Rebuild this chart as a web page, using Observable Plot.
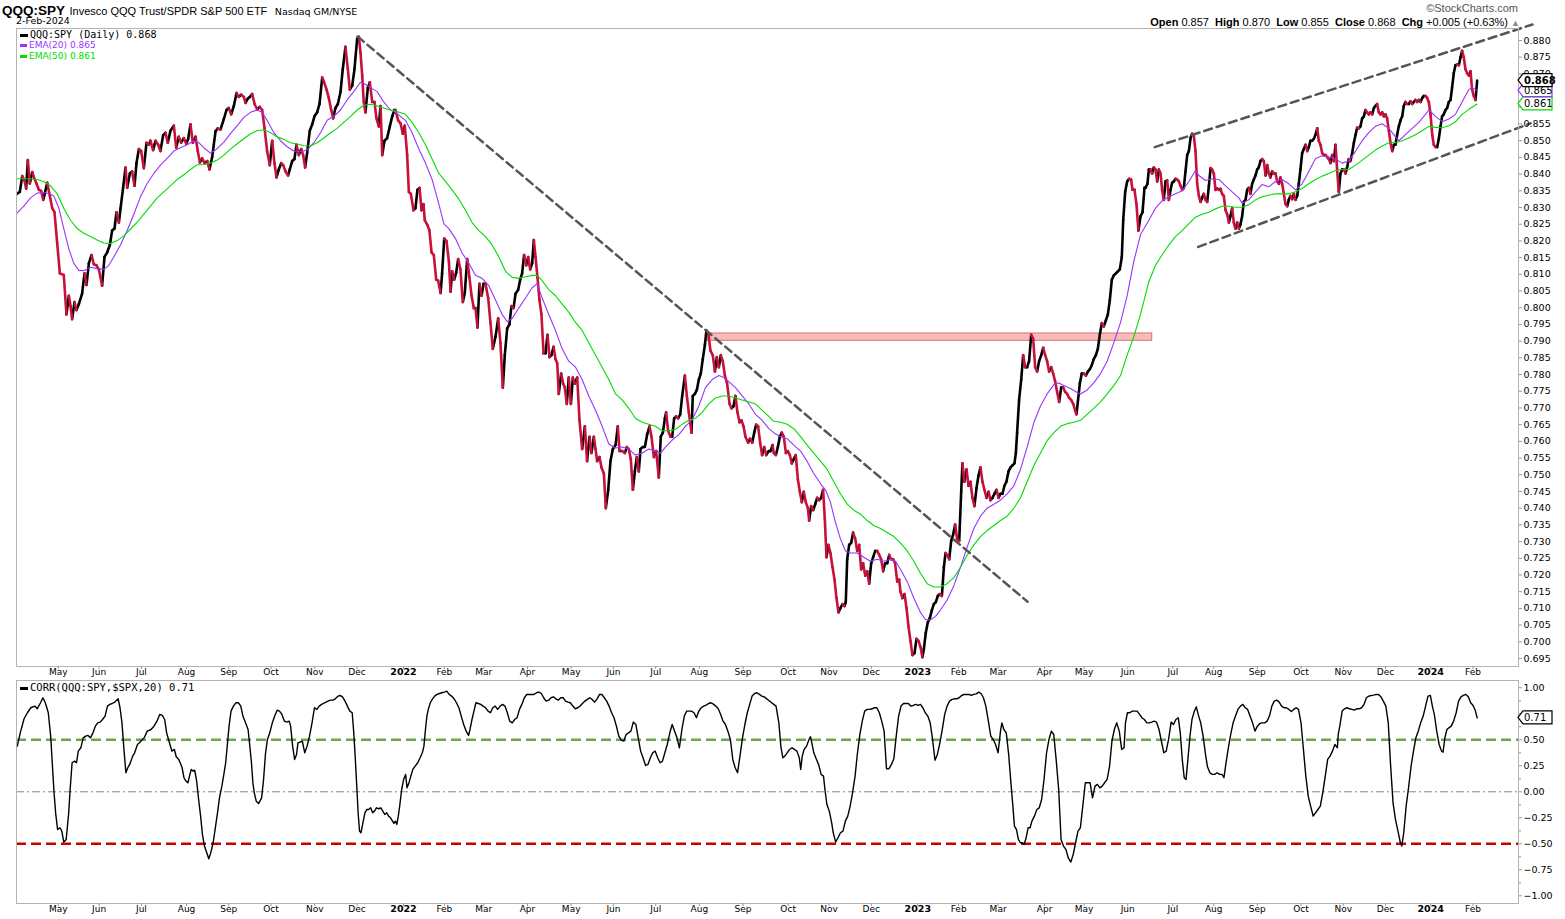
<!DOCTYPE html>
<html><head><meta charset="utf-8">
<script src="https://cdn.jsdelivr.net/npm/d3@7"></script>
<script src="https://cdn.jsdelivr.net/npm/@observablehq/plot@0.6"></script>
<style>
body{margin:0;background:#fff}
#wrap{position:relative;width:1565px;height:919px;overflow:hidden;background:#fff}
.abs{position:absolute;white-space:nowrap;line-height:1}
.sans{font-family:'Liberation Sans',Arial,sans-serif}
.dv{font-family:'DejaVu Sans',sans-serif}
.mono{font-family:'DejaVu Sans Mono',monospace}
.bar{display:inline-block;width:8px;height:3px;vertical-align:middle;margin-right:2px}
</style></head><body>
<div id="wrap">
  <div class="abs sans" style="left:2px;top:2px"><span style="font-weight:bold;font-size:13.5px">QQQ:SPY</span> <span style="font-size:11px">Invesco QQQ Trust/SPDR S&amp;P 500 ETF</span> <span class="dv" style="font-size:9.5px">&nbsp;Nasdaq GM/NYSE</span></div>
  <div class="abs dv" style="left:16px;top:16px;font-size:9.5px">2-Feb-2024</div>
  <div class="abs sans" style="right:47px;top:3px;font-size:11px;color:#555">&#169;StockCharts.com</div>
  <div class="abs sans" id="ohlc" style="right:45px;top:17px;font-size:11px"></div>
  <div class="abs mono" style="left:20px;top:30px;font-size:10px"><span class="bar" style="background:#000"></span>QQQ:SPY (Daily) 0.868</div>
  <div class="abs dv" style="left:20px;top:41px;font-size:9px;color:#9933ff"><span class="bar" style="background:#9933ff;width:7px"></span>EMA(20) 0.865</div>
  <div class="abs dv" style="left:20px;top:52px;font-size:9px;color:#00dd00"><span class="bar" style="background:#00dd00;width:7px"></span>EMA(50) 0.861</div>
  <div id="main" class="abs" style="left:0;top:28px"></div>
  <div id="lower" class="abs" style="left:0;top:680px"></div>
  <div class="abs mono" style="left:20px;top:682px;font-size:10.5px"><span class="bar" style="background:#000"></span>CORR(QQQ:SPY,$SPX,20) 0.71</div>
</div>
<script>
// ---- header quote ----
const quoteLabels = ["Open","High","Low","Close","Chg"];
const quoteValues = ["0.857","0.870","0.855","0.868","+0.005 (+0.63%)"];

// ---- axis ticks ----
const monthTicks = ["2021-05-03","2021-06-01","2021-07-01","2021-08-02","2021-09-01","2021-10-01","2021-11-01","2021-12-01","2022-01-03","2022-02-01","2022-03-01","2022-04-01","2022-05-02","2022-06-01","2022-07-01","2022-08-01","2022-09-01","2022-10-03","2022-11-01","2022-12-01","2023-01-03","2023-02-01","2023-03-01","2023-04-03","2023-05-01","2023-06-01","2023-07-03","2023-08-01","2023-09-01","2023-10-02","2023-11-01","2023-12-01","2024-01-02","2024-02-01"];
const monthLabels = ["May","Jun","Jul","Aug","Sep","Oct","Nov","Dec","2022","Feb","Mar","Apr","May","Jun","Jul","Aug","Sep","Oct","Nov","Dec","2023","Feb","Mar","Apr","May","Jun","Jul","Aug","Sep","Oct","Nov","Dec","2024","Feb"];

// ---- series: [days since 2021-04-01, value] ----
const price = [
[2.8,.8341],[4.7,.8347],[6.4,.8394],[8.0,.8381],[9.2,.8357],[10.4,.8442],[11.8,.8372],[13.5,.8406],[15.1,.8386],[16.5,.8372],
[18.2,.8353],[19.8,.8350],[21.3,.8323],[22.4,.8341],[24.1,.8374],[26.0,.8335],[27.7,.8298],[29.3,.8286],[31.2,.8194],[33.1,.8103],
[35.9,.8098],[37.8,.7980],[39.5,.8036],[40.7,.8005],[41.8,.7966],[43.5,.8017],[44.9,.7993],[46.6,.8011],[48.9,.8042],[50.6,.8103],
[52.0,.8068],[53.7,.8133],[55.6,.8158],[57.2,.8130],[59.1,.8127],[60.8,.8115],[63.1,.8066],[64.8,.8152],[66.7,.8166],[68.6,.8188],
[70.2,.8231],[71.9,.8237],[73.3,.8286],[75.0,.8255],[76.2,.8298],[78.0,.8359],[79.7,.8420],[80.9,.8359],[82.8,.8402],[84.4,.8408],
[86.1,.8365],[87.5,.8433],[89.2,.8475],[90.8,.8469],[92.7,.8418],[94.6,.8494],[96.3,.8488],[97.4,.8500],[99.3,.8472],[101.0,.8500],
[102.9,.8488],[104.5,.8469],[106.4,.8516],[108.1,.8524],[109.7,.8494],[111.6,.8530],[114.0,.8545],[115.7,.8479],[117.5,.8512],[119.2,.8494],
[121.1,.8508],[122.8,.8491],[124.2,.8506],[125.8,.8549],[127.5,.8494],[129.4,.8512],[131.0,.8469],[132.5,.8435],[134.1,.8447],[135.8,.8433],
[137.7,.8439],[139.3,.8414],[141.2,.8451],[143.6,.8528],[145.2,.8537],[147.1,.8533],[149.5,.8565],[151.4,.8592],[153.0,.8598],[154.7,.8579],
[156.6,.8604],[158.5,.8643],[160.1,.8631],[161.8,.8638],[163.7,.8631],[164.9,.8613],[166.5,.8626],[167.9,.8631],[169.6,.8640],[171.3,.8610],
[173.1,.8594],[175.0,.8601],[176.7,.8592],[178.4,.8537],[180.2,.8469],[182.1,.8427],[183.8,.8500],[185.4,.8433],[186.9,.8390],[188.5,.8414],
[190.2,.8433],[191.6,.8427],[193.3,.8408],[195.1,.8396],[196.3,.8414],[198.0,.8439],[199.6,.8445],[201.1,.8488],[202.7,.8457],[204.4,.8475],
[205.8,.8457],[207.2,.8420],[208.6,.8463],[210.5,.8530],[212.2,.8549],[213.8,.8573],[215.7,.8585],[217.4,.8610],[219.3,.8689],[220.5,.8677],
[222.4,.8653],[224.0,.8628],[225.7,.8592],[227.1,.8567],[228.7,.8598],[230.4,.8610],[232.3,.8646],[233.9,.8714],[235.8,.8781],[237.5,.8714],
[238.9,.8653],[240.6,.8665],[242.2,.8714],[244.1,.8805],[245.3,.8811],[246.5,.8763],[247.7,.8695],[248.8,.8616],[250.0,.8585],[251.7,.8659],
[253.1,.8675],[254.8,.8616],[256.4,.8616],[257.8,.8567],[259.5,.8543],[260.7,.8604],[261.9,.8457],[263.5,.8500],[265.4,.8508],[267.3,.8543],
[269.0,.8573],[270.6,.8592],
[271.3,.8592],[273.2,.8561],[274.9,.8552],[276.5,.8521],[277.9,.8545],[279.6,.8457],[280.8,.8347],[282.2,.8341],[284.1,.8292],[285.5,.8298],
[286.9,.8353],[288.4,.8359],[289.8,.8292],[291.2,.8310],[292.1,.8262],[293.8,.8249],[295.4,.8231],[296.9,.8166],[298.5,.8158],[300.2,.8084],
[301.6,.8081],[303.3,.8044],[304.4,.8103],[305.9,.8207],[307.5,.8200],[309.2,.8139],[310.4,.8048],[311.5,.8109],[313.0,.8084],[314.4,.8105],
[315.8,.8146],[317.4,.8115],[319.1,.8017],[320.5,.8044],[322.2,.8146],[323.8,.8091],[325.3,.8036],[326.9,.7999],[328.1,.7999],[329.5,.7941],
[330.9,.8072],[332.4,.8036],[333.8,.8072],[335.2,.8072],[337.1,.8029],[338.7,.7956],[340.4,.7877],[342.3,.7913],[344.2,.7968],[345.8,.7895],
[347.5,.7761],[348.9,.7858],[350.6,.7938],[352.2,.7950],[353.6,.8005],[355.1,.7999],[356.5,.8042],[358.4,.8054],[359.8,.8084],[361.2,.8103],
[362.6,.8158],[364.1,.8127],[365.5,.8152],[366.9,.8115],[368.3,.8133],[369.5,.8203],[370.7,.8152],[372.1,.8091],[373.5,.8023],[374.9,.7980],
[376.4,.7864],[377.8,.7864],[379.2,.7919],[380.6,.7852],[382.0,.7858],[383.5,.7883],[384.9,.7846],[386.1,.7834],[387.2,.7742],[388.9,.7803],
[390.3,.7773],[391.5,.7761],[392.9,.7712],[394.3,.7791],[395.8,.7712],[397.2,.7791],[398.6,.7773],[400.3,.7791],[401.9,.7663],[403.8,.7577],
[405.7,.7645],[407.3,.7541],[409.0,.7614],[410.4,.7565],[412.1,.7614],[413.3,.7577],[414.4,.7541],[416.1,.7553],[417.5,.7522],[419.2,.7504],
[420.6,.7400],[422.3,.7455],[423.9,.7541],[425.6,.7577],[427.5,.7589],[429.1,.7645],[430.3,.7571],[432.2,.7571],[434.1,.7565],[435.5,.7583],
[436.9,.7577],[438.3,.7547],[439.8,.7455],[441.2,.7510],[442.6,.7553],[444.0,.7510],[445.2,.7577],[446.9,.7583],[448.3,.7583],[449.9,.7620],
[451.6,.7645],[453.0,.7614],[454.7,.7553],[456.3,.7571],[458.2,.7492],[459.6,.7614],[461.1,.7626],[462.5,.7669],[463.4,.7687],[464.8,.7632],
[466.5,.7614],[467.7,.7614],[469.1,.7669],[470.5,.7675],[471.9,.7669],[473.4,.7681],[474.8,.7736],[476.7,.7797],[478.1,.7736],[479.5,.7687],
[481.4,.7626],[482.3,.7736],[483.8,.7742],[485.2,.7754],[486.6,.7785],[488.0,.7803],[489.4,.7846],[490.9,.7889],[492.0,.7932],[493.2,.7926],
[494.9,.7871],[496.5,.7858],[498.0,.7809],[499.4,.7852],[500.8,.7822],[502.2,.7858],[503.6,.7840],[505.1,.7797],[506.7,.7773],[508.4,.7712],
[509.8,.7699],[511.2,.7705],[512.6,.7736],[514.0,.7687],[515.5,.7657],[516.9,.7663],[518.3,.7645],[519.7,.7614],[521.6,.7596],[523.0,.7608],
[524.5,.7596],[525.9,.7626],[527.3,.7650],[528.7,.7645],[530.1,.7596],[531.5,.7559],[533.0,.7583],[534.4,.7559],[536.3,.7571],
[537.5,.7571],[538.9,.7589],[539.8,.7565],[541.3,.7559],[542.7,.7583],[544.1,.7614],[545.5,.7626],[546.9,.7614],[548.4,.7565],[549.8,.7571],
[551.2,.7559],[552.6,.7534],[554.0,.7547],[555.4,.7559],[556.9,.7486],[558.3,.7449],[559.7,.7418],[561.1,.7449],[562.5,.7418],[564.0,.7400],
[564.9,.7363],[566.3,.7406],[567.8,.7394],[569.2,.7412],[570.6,.7431],[572.0,.7424],[573.4,.7431],[574.8,.7455],[576.0,.7369],[577.2,.7253],
[578.6,.7290],[580.0,.7266],[581.5,.7223],[582.9,.7186],[584.3,.7131],[585.7,.7088],[587.1,.7101],[588.6,.7113],[590.0,.7107],[590.9,.7119],
[591.9,.7247],[593.3,.7290],[594.7,.7296],[596.1,.7327],[597.6,.7308],[599.0,.7272],[600.4,.7290],[601.8,.7217],[603.2,.7235],[604.7,.7198],
[606.1,.7211],[607.5,.7174],[608.9,.7235],[610.3,.7253],[611.8,.7272],[613.2,.7272],[614.6,.7260],[616.0,.7247],[617.4,.7211],[618.8,.7235],
[620.3,.7235],[621.7,.7260],[623.1,.7247],[624.5,.7247],[625.9,.7235],[627.4,.7180],[628.8,.7186],[629.7,.7150],[631.1,.7131],[632.6,.7143],
[634.0,.7101],[635.4,.7046],[636.8,.7003],[638.2,.6960],[639.7,.6966],[641.1,.7009],[642.5,.7003],[643.9,.6985],[645.3,.6954],[646.3,.6978],
[647.7,.7027],[649.1,.7058],[650.5,.7070],[652.0,.7095],[653.4,.7113],[654.8,.7119],[656.2,.7137],[657.6,.7143],[659.1,.7137],[660.5,.7223],
[661.7,.7266],[662.8,.7260],[664.3,.7247],[665.7,.7302],[667.1,.7321],[668.5,.7351],[669.9,.7308],[671.4,.7302],[672.8,.7449],[673.7,.7534],
[675.1,.7479],[676.6,.7516],[678.0,.7467],[679.4,.7479],[680.8,.7431],[682.2,.7406],[683.7,.7461],[685.1,.7498],[686.5,.7522],[687.9,.7479],
[689.3,.7455],[690.8,.7431],[692.2,.7449],[693.6,.7424],[695.0,.7431],[696.4,.7443],[697.9,.7455],[699.3,.7431],[700.7,.7443],[702.1,.7443],
[703.5,.7467],[704.9,.7479],[706.4,.7510],[707.8,.7522],[709.2,.7528],[710.6,.7534],[711.6,.7565],[712.5,.7626],[713.9,.7724],[715.4,.7785],
[716.8,.7858],[718.2,.7822],[719.6,.7822],[721.0,.7840],[722.5,.7919],[723.9,.7907],[725.3,.7822],[726.7,.7809],[728.1,.7840],[729.6,.7858],
[731.0,.7880],[732.4,.7858],[733.8,.7840],[735.2,.7809],[736.7,.7822],[738.1,.7803],[739.5,.7779],[740.9,.7748],[742.3,.7718],[743.8,.7761],
[745.2,.7761],[746.6,.7748],[748.0,.7742],[749.4,.7730],[750.8,.7724],[752.3,.7712],[753.7,.7693],[754.6,.7681],[755.6,.7718],[757.0,.7773],
[758.4,.7803],[759.8,.7803],[761.3,.7797],[762.7,.7809],[764.1,.7816],[765.5,.7828],[766.9,.7846],[768.4,.7858],[769.8,.7877],[771.2,.7919],
[772.6,.7954],[774.0,.7944],[775.5,.7962],[776.9,.7980],[778.3,.8023],[779.7,.8084],[781.1,.8097],[782.6,.8103],[784.0,.8109],[785.4,.8115],
[786.8,.8152],[787.8,.8262],[789.2,.8347],[790.6,.8378],[792.0,.8386],[793.4,.8384],[794.4,.8353],[795.8,.8353],[797.2,.8310],[798.6,.8231],
[800.1,.8274],[801.5,.8286],[802.9,.8359],
[803.6,.8359],[805.0,.8371],[806.0,.8414],[807.2,.8414],[808.3,.8402],[809.5,.8420],[810.7,.8414],[811.9,.8378],[813.1,.8414],[814.3,.8402],
[815.4,.8353],[816.6,.8323],[817.8,.8378],[819.0,.8381],[820.2,.8323],[821.4,.8353],[822.5,.8374],[823.7,.8378],[824.9,.8386],[826.1,.8384],
[827.3,.8378],[828.5,.8365],[829.6,.8353],[830.8,.8359],[832.0,.8408],[833.2,.8457],[834.4,.8469],[835.6,.8508],[836.7,.8521],[837.9,.8516],
[839.1,.8469],[840.3,.8371],[841.5,.8335],[842.7,.8317],[843.8,.8329],[845.0,.8341],[846.2,.8323],[847.4,.8317],[848.6,.8365],[849.8,.8418],
[850.9,.8414],[852.1,.8402],[853.3,.8353],[854.5,.8357],[855.7,.8353],[856.8,.8356],[858.0,.8341],[859.2,.8335],[860.4,.8292],[861.6,.8280],
[862.8,.8255],[863.9,.8274],[865.1,.8298],[866.3,.8255],[867.5,.8237],[868.7,.8255],[869.9,.8237],[871.0,.8249],[872.2,.8274],[873.4,.8317],
[874.6,.8323],[875.8,.8353],[876.9,.8359],[878.1,.8341],[879.3,.8371],[880.5,.8384],[881.7,.8396],[882.9,.8414],[884.0,.8420],[885.2,.8439],
[886.4,.8445],[887.6,.8439],[888.8,.8396],[890.0,.8427],[891.1,.8402],[892.3,.8390],[893.5,.8408],[894.7,.8402],[895.9,.8402],[897.1,.8378],
[898.3,.8371],[899.4,.8390],[900.6,.8371],[901.8,.8341],[903.0,.8310],[904.2,.8304],[905.3,.8323],[906.5,.8335],[907.7,.8325],[908.9,.8341],
[910.1,.8323],[911.3,.8335],[912.4,.8371],[913.6,.8414],[914.8,.8463],[916.0,.8475],[917.2,.8488],[918.4,.8469],[919.5,.8481],[920.7,.8500],
[921.9,.8500],[923.1,.8506],[924.3,.8518],[925.5,.8537],[926.6,.8500],[927.8,.8488],[929.0,.8463],[930.2,.8457],[931.4,.8457],[932.6,.8451],
[933.7,.8445],[934.9,.8433],[936.1,.8457],[937.3,.8439],[938.5,.8488],[939.6,.8414],[940.8,.8347],[942.0,.8402],[943.2,.8414],[944.4,.8414],
[945.6,.8402],[946.7,.8420],[947.9,.8445],[949.1,.8439],[950.3,.8463],[951.5,.8494],[952.7,.8518],[953.8,.8539],[955.0,.8537],[956.2,.8543],
[957.4,.8567],[958.6,.8573],[959.7,.8592],[960.9,.8585],[962.1,.8579],[963.3,.8585],[964.5,.8579],[965.7,.8598],[966.8,.8604],[968.0,.8610],
[969.2,.8585],[970.4,.8579],[971.6,.8585],[972.8,.8573],[973.9,.8579],[975.1,.8567],[976.3,.8530],[977.5,.8494],[978.7,.8469],[979.9,.8488],
[981.0,.8488],[982.2,.8518],[983.4,.8543],[984.6,.8561],[985.8,.8573],[986.9,.8604],[988.1,.8616],[989.3,.8610],[990.5,.8610],[991.7,.8618],
[992.9,.8610],[994.0,.8616],[995.2,.8622],[996.4,.8616],[997.6,.8622],[998.8,.8616],[1000.0,.8628],[1001.1,.8634],[1002.3,.8634],[1003.5,.8628],
[1004.7,.8616],[1005.9,.8579],[1007.1,.8518],[1008.2,.8488],[1009.4,.8481],[1010.6,.8481],[1011.8,.8506],[1013.0,.8543],[1014.1,.8573],[1015.3,.8579],
[1016.5,.8592],[1017.7,.8598],[1018.9,.8616],[1020.1,.8622],[1021.2,.8659],[1022.4,.8702],[1023.6,.8726],[1024.8,.8728],[1026.0,.8726],[1027.2,.8750],
[1028.3,.8769],[1029.5,.8750],[1030.7,.8714],[1031.9,.8702],[1033.1,.8695],[1034.3,.8708],[1035.4,.8653],[1036.6,.8634],[1037.8,.8622],[1039.0,.8680]
];

const ema20 = [
[2.8,.8284],[7.5,.8304],[12.3,.8329],[17.0,.8343],[21.7,.8345],[25.3,.8341],[28.8,.8335],[32.4,.8298],[35.9,.8237],[39.5,.8176],
[43.0,.8133],[46.6,.8112],[50.1,.8111],[54.9,.8121],[59.6,.8117],[64.3,.8115],[67.9,.8127],[71.4,.8152],[76.1,.8188],[80.9,.8231],
[85.6,.8280],[90.3,.8332],[95.1,.8372],[99.8,.8402],[104.5,.8427],[109.3,.8447],[114.0,.8469],[118.7,.8479],[123.5,.8488],[128.2,.8500],
[131.7,.8494],[135.3,.8479],[140.0,.8463],[143.6,.8472],[149.5,.8496],[154.2,.8521],[159.0,.8545],[163.7,.8570],[168.4,.8585],[173.1,.8592],
[176.7,.8585],[180.2,.8561],[185.0,.8524],[189.7,.8500],[194.4,.8482],[199.2,.8469],[203.9,.8467],[208.6,.8472],[213.4,.8494],[218.1,.8524],
[222.8,.8561],[227.5,.8573],[232.3,.8592],[237.0,.8622],[241.7,.8647],[246.5,.8675],[248.8,.8671],[253.6,.8659],[258.3,.8647],[263.0,.8616],[267.8,.8592],
[271.3,.8585],[278.4,.8561],[283.1,.8524],[287.9,.8475],[292.6,.8433],[297.3,.8384],[302.1,.8310],[305.6,.8252],[309.2,.8237],[313.9,.8207],
[318.6,.8164],[323.4,.8133],[328.1,.8097],[332.8,.8088],[337.6,.8066],[342.3,.8023],[347.0,.7980],[350.6,.7958],[354.1,.7968],[358.8,.7999],
[363.6,.8029],[368.3,.8060],[371.9,.8072],[375.4,.8029],[380.1,.7980],[384.9,.7932],[389.6,.7877],[394.3,.7840],[399.1,.7822],[403.8,.7785],
[408.5,.7736],[413.3,.7693],[418.0,.7645],[422.7,.7592],[427.5,.7580],[432.2,.7583],[436.9,.7577],[441.6,.7559],[446.4,.7565],[451.1,.7577],
[455.8,.7571],[459.4,.7565],[462.9,.7583],[467.7,.7604],[472.4,.7620],[477.1,.7645],[481.9,.7665],[486.6,.7706],[491.3,.7761],[496.1,.7785],
[500.8,.7797],[504.3,.7791],[507.9,.7779],[512.6,.7761],[517.4,.7736],[522.1,.7712],[526.8,.7681],[531.6,.7663],[536.3,.7638],
[539.8,.7626],[544.6,.7614],[549.3,.7608],[554.0,.7589],[558.8,.7571],[563.5,.7540],[568.2,.7504],[573.0,.7473],[576.5,.7455],[580.0,.7418],
[583.6,.7357],[587.1,.7308],[590.7,.7272],[594.2,.7266],[599.0,.7266],[603.7,.7253],[608.4,.7241],[613.2,.7247],[617.9,.7241],[622.6,.7247],
[626.2,.7241],[629.7,.7217],[634.5,.7180],[639.2,.7131],[643.9,.7088],[647.5,.7066],[651.0,.7066],[654.6,.7076],[658.1,.7095],[662.8,.7125],
[667.6,.7168],[672.3,.7223],[677.1,.7284],[681.8,.7339],[686.5,.7376],[691.2,.7400],[696.0,.7412],[700.7,.7424],[705.4,.7443],[710.2,.7467],
[714.9,.7516],[719.6,.7583],[724.4,.7657],[729.1,.7706],[733.8,.7742],[738.6,.7770],[742.1,.7775],[745.6,.7767],[750.4,.7758],[755.1,.7746],
[757.5,.7742],[762.2,.7754],[766.9,.7775],[771.7,.7803],[776.4,.7840],[781.1,.7895],[785.9,.7956],[790.6,.8036],[795.3,.8139],[800.1,.8219],
[806.0,.8262],[810.7,.8298],[815.4,.8320],[820.2,.8332],[824.9,.8341],[829.6,.8350],[834.4,.8378],[839.1,.8411],[841.5,.8396],[846.2,.8381],
[850.9,.8386],[855.7,.8384],[860.4,.8365],[865.1,.8347],[869.9,.8329],[872.2,.8313],[876.9,.8323],[881.7,.8347],[886.4,.8369],[891.1,.8362],
[895.9,.8378],[900.6,.8384],[905.3,.8371],[910.1,.8353],[914.8,.8371],[919.5,.8408],[924.3,.8447],[929.0,.8455],[933.7,.8451],[938.5,.8445],
[943.2,.8433],[947.9,.8439],[952.7,.8469],[957.4,.8500],[962.1,.8524],[966.8,.8543],[971.6,.8551],[976.3,.8537],[981.0,.8512],[983.4,.8500],
[988.1,.8518],[992.9,.8537],[997.6,.8555],[1002.3,.8579],[1004.7,.8592],[1009.4,.8573],[1014.1,.8557],[1018.9,.8565],[1023.6,.8579],[1028.3,.8616],
[1033.1,.8653],[1035.4,.8659],[1039.0,.8650]
];

const ema50 = [
[2.8,.8386],[7.5,.8386],[12.3,.8386],[17.0,.8384],[21.7,.8378],[26.5,.8365],[31.2,.8341],[35.9,.8298],[40.7,.8262],[45.4,.8237],
[50.1,.8223],[54.9,.8213],[59.6,.8203],[64.3,.8194],[69.0,.8192],[73.8,.8201],[78.5,.8215],[83.2,.8235],[88.0,.8256],[92.7,.8280],
[97.4,.8304],[102.2,.8329],[106.9,.8347],[111.6,.8365],[116.4,.8384],[121.1,.8398],[125.8,.8414],[130.6,.8428],[135.3,.8429],[140.0,.8433],
[144.8,.8442],[149.5,.8457],[154.2,.8475],[159.0,.8491],[163.7,.8506],[168.4,.8521],[173.1,.8530],[177.9,.8533],[182.6,.8524],[187.3,.8512],
[192.1,.8504],[196.8,.8494],[201.5,.8490],[206.3,.8485],[211.0,.8484],[215.7,.8494],[220.5,.8508],[225.2,.8524],[229.9,.8537],[234.6,.8555],
[239.4,.8573],[244.1,.8592],[248.8,.8606],[253.6,.8609],[258.3,.8604],[263.0,.8598],[267.8,.8592],
[271.3,.8589],[278.4,.8579],[283.1,.8555],[287.9,.8524],[292.6,.8488],[297.3,.8445],[302.1,.8402],[306.8,.8378],[311.5,.8353],[316.3,.8325],
[321.0,.8292],[325.7,.8255],[330.5,.8231],[335.2,.8213],[339.9,.8188],[344.7,.8152],[349.4,.8109],[354.1,.8091],[358.8,.8088],[363.6,.8093],
[368.3,.8097],[371.9,.8097],[375.4,.8081],[380.1,.8054],[384.9,.8036],[389.6,.8011],[394.3,.7987],[399.1,.7956],[403.8,.7932],[408.5,.7895],
[413.3,.7858],[418.0,.7822],[422.7,.7785],[427.5,.7742],[432.2,.7724],[436.9,.7699],[441.6,.7669],[446.4,.7657],[451.1,.7651],[455.8,.7645],
[460.6,.7632],[465.3,.7632],[470.0,.7636],[474.8,.7651],[479.5,.7663],[484.2,.7669],[489.0,.7687],[493.7,.7712],[498.4,.7730],[503.2,.7736],
[507.9,.7736],[512.6,.7730],[517.4,.7724],[522.1,.7718],[526.8,.7712],[531.6,.7693],[536.3,.7675],
[539.8,.7660],[544.6,.7657],[549.3,.7651],[554.0,.7638],[558.8,.7614],[563.5,.7589],[568.2,.7565],[573.0,.7541],[577.7,.7516],[582.4,.7479],
[587.1,.7443],[591.9,.7412],[596.6,.7394],[601.3,.7382],[606.1,.7363],[610.8,.7348],[615.5,.7339],[620.3,.7327],[625.0,.7315],[629.7,.7296],
[634.5,.7272],[639.2,.7241],[643.9,.7205],[648.7,.7174],[653.4,.7164],[658.1,.7164],[662.8,.7174],[667.6,.7192],[672.3,.7223],[677.1,.7260],
[681.8,.7290],[686.5,.7315],[691.2,.7333],[696.0,.7348],[700.7,.7363],[705.4,.7376],[710.2,.7400],[714.9,.7431],[719.6,.7479],[724.4,.7528],
[729.1,.7565],[733.8,.7602],[738.6,.7626],[743.3,.7645],[748.0,.7653],[752.7,.7657],[757.5,.7663],[762.2,.7681],[766.9,.7699],[771.7,.7718],
[776.4,.7742],[781.1,.7767],[785.9,.7797],[790.6,.7858],[795.3,.7913],[800.1,.7981],
[806.0,.8078],[810.7,.8127],[815.4,.8158],[820.2,.8188],[824.9,.8213],[829.6,.8231],[834.4,.8252],[839.1,.8271],[843.8,.8280],[848.6,.8286],
[853.3,.8296],[858.0,.8304],[862.8,.8304],[867.5,.8301],[872.2,.8301],[876.9,.8308],[881.7,.8323],[886.4,.8332],[891.1,.8337],[895.9,.8341],
[900.6,.8341],[905.3,.8341],[910.1,.8347],[914.8,.8357],[919.5,.8371],[924.3,.8384],[929.0,.8394],[933.7,.8402],[938.5,.8411],[943.2,.8414],
[947.9,.8414],[952.7,.8427],[957.4,.8442],[962.1,.8457],[966.8,.8472],[971.6,.8484],[976.3,.8494],[981.0,.8494],[985.8,.8500],[990.5,.8508],
[995.2,.8518],[1000.0,.8530],[1004.7,.8543],[1009.4,.8540],[1014.1,.8539],[1018.9,.8545],[1023.6,.8557],[1028.3,.8579],[1033.1,.8594],[1039.0,.8610]
];

const corr = [
[2.9,.439],[5.0,.567],[7.7,.702],[10.1,.760],[12.5,.808],[15.3,.824],[17.0,.798],[19.4,.856],[21.1,.904],[22.8,.856],[24.9,.760],[26.6,.535],[28.0,.215],[29.0,-.010],[30.1,-.202],[31.5,-.362],[33.2,-.346],[34.5,-.378],[35.9,-.484],[37.6,-.458],
[39.4,-.202],[40.4,.022],[41.8,.279],[43.5,.295],[44.9,.279],[46.2,.391],[48.0,.423],[49.7,.519],[51.4,.535],[53.1,.542],[54.8,.519],[56.6,.567],[58.3,.631],[60.0,.663],[61.7,.670],[63.4,.695],[65.2,.728],[66.9,.824],[68.6,.840],[70.3,.849],
[72.0,.862],[74.5,.894],[75.8,.808],[77.2,.663],[78.6,.407],[80.0,.183],[81.3,.231],[82.7,.263],[84.8,.343],[86.2,.375],[88.2,.455],[89.6,.471],[91.7,.503],[93.0,.519],[95.1,.583],[97.8,.599],[99.9,.631],[102.0,.679],[104.0,.744],[105.8,.734],
[107.5,.695],[108.9,.567],[110.9,.471],[112.6,.391],[114.4,.407],[115.7,.337],[117.5,.311],[118.5,.279],[119.9,.231],[121.2,.135],[122.6,.103],[124.0,.087],[125.4,.167],[126.4,.215],[127.8,.199],[128.8,.208],[130.2,.103],[131.6,-.074],[133.0,-.234],[134.3,-.410],
[135.7,-.522],[137.4,-.587],[138.8,-.644],[140.2,-.587],[141.9,-.490],[143.3,-.362],[145.0,-.202],[146.4,-.058],[148.1,.054],[149.5,.167],[150.8,.279],[151.9,.439],[153.2,.631],[154.6,.776],[156.3,.824],[158.1,.856],[159.8,.856],[161.5,.824],[163.2,.721],[164.9,.663],
[166.7,.599],[167.7,.471],[169.1,.279],[170.1,.087],[171.1,-.010],[172.5,-.090],[174.2,-.112],[176.3,-.058],[177.7,.119],[179.0,.359],[180.4,.503],[182.1,.567],[183.9,.663],[185.6,.728],[187.3,.785],[189.0,.776],[190.7,.744],[192.5,.679],[194.2,.670],[195.9,.679],
[196.9,.631],[198.3,.439],[199.7,.311],[201.1,.359],[202.1,.471],[203.5,.478],[205.2,.487],[206.9,.375],[208.6,.439],[210.3,.535],[212.1,.663],[213.8,.808],[215.5,.792],[217.2,.824],[218.9,.840],[221.0,.856],[223.4,.872],[225.1,.881],[226.9,.881],[228.6,.894],
[230.6,.920],[232.0,.926],[233.7,.913],[235.5,.872],[237.2,.824],[238.9,.776],[240.6,.760],[241.7,.567],[242.7,.343],[243.7,.087],[244.8,-.202],[245.8,-.378],[246.8,-.394],[248.2,-.298],[249.6,-.202],[251.0,-.170],[252.3,-.170],[253.7,-.154],[255.1,-.202],[256.4,-.186],
[257.8,-.154],[259.5,-.163],[260.9,-.154],[262.3,-.186],[263.7,-.218],[265.1,-.202],[266.4,-.234],[267.8,-.250],[269.2,-.282],[270.2,-.304],[271.2,-.282],[272.3,-.314],[273.3,-.234],[274.3,-.138],[275.7,.022],[277.1,.119],[278.5,.167],[279.5,.038],[280.9,.087],[282.2,.151],
[283.6,.215],[285.3,.247],[287.1,.279],[288.8,.327],[290.5,.381],[291.5,.439],[292.6,.599],[293.6,.728],[294.6,.792],[296.0,.856],[297.4,.888],[299.1,.920],[300.8,.936],[302.5,.945],[304.3,.952],[306.0,.958],[307.7,.968],[309.4,.936],[311.1,.920],[312.9,.894],
[314.6,.856],[316.3,.808],[318.0,.728],[319.7,.647],[321.5,.583],[323.2,.542],[324.2,.599],[325.6,.695],[327.0,.776],[328.4,.856],[330.1,.849],[331.8,.840],[333.5,.824],[335.2,.808],[337.0,.776],[338.7,.760],[340.4,.808],[342.1,.824],[343.8,.792],[345.6,.824],
[347.3,.840],[349.0,.824],[350.7,.760],[352.4,.679],[354.2,.663],[355.9,.695],[357.6,.712],[359.3,.792],[361.0,.840],[362.8,.904],[364.5,.936],[366.2,.936],[367.9,.936],[369.6,.936],[371.4,.952],[373.1,.958],[374.8,.945],[376.5,.904],[378.2,.872],[380.0,.881],
[381.7,.904],[383.4,.913],[385.1,.894],[386.8,.881],[388.6,.904],[390.3,.904],[392.0,.872],[393.7,.862],[395.4,.856],[397.2,.824],[398.9,.798],[400.6,.808],[402.3,.824],[404.0,.849],[405.8,.872],[407.5,.888],[409.2,.904],[410.9,.888],[412.6,.862],[414.4,.894],
[416.1,.936],[417.8,.936],[419.5,.904],[421.2,.872],[422.9,.824],[424.7,.760],[426.4,.712],[428.1,.631],[429.8,.535],[431.5,.497],[433.3,.487],[435.0,.551],[436.7,.567],[438.4,.583],[440.1,.670],[441.9,.647],[443.6,.519],[445.3,.391],[447.0,.327],[448.8,.253],
[450.5,.263],[452.2,.327],[453.9,.375],[455.6,.391],[457.4,.327],[459.1,.279],[460.8,.295],[462.5,.375],[464.2,.455],[466.0,.567],[467.7,.647],[469.4,.583],[471.1,.519],[472.8,.423],[474.6,.599],[476.3,.728],[478.0,.776],[479.7,.776],[481.4,.776],[483.2,.760],
[484.9,.712],[486.6,.776],[488.3,.808],[490.0,.824],[491.8,.833],[493.5,.849],[495.2,.856],[496.9,.843],[498.6,.824],[500.4,.798],[502.1,.744],[503.8,.679],[505.5,.647],[507.2,.583],[509.0,.503],[510.7,.311],[512.4,.231],[514.1,.183],[515.8,.343],[517.6,.519],
[519.3,.647],[521.0,.760],[522.7,.840],[524.4,.920],[526.2,.945],[527.9,.952],[529.6,.936],[531.3,.920],[533.0,.913],[536.5,.875],
[541.4,.824],[543.4,.663],[544.8,.439],[546.2,.327],[547.6,.343],[549.3,.375],[551.0,.407],[552.7,.423],[554.5,.407],[556.2,.391],[557.9,.327],[558.9,.215],[560.0,.343],[561.3,.407],[563.1,.439],[564.8,.503],[565.8,.529],[566.8,.471],[568.2,.375],[569.9,.317],
[571.6,.263],[573.4,.167],[575.1,.151],[576.1,.022],[577.5,-.122],[579.2,-.186],[580.9,-.298],[582.0,-.394],[583.7,-.484],[585.4,-.442],[587.1,-.394],[588.9,-.378],[590.6,-.282],[592.3,-.234],[594.0,-.138],[595.7,-.010],[597.5,.151],[599.2,.375],[600.9,.551],[602.6,.679],
[604.3,.776],[606.1,.792],[607.8,.792],[609.5,.798],[611.2,.808],[612.9,.808],[614.7,.760],[616.4,.679],[618.1,.583],[619.8,.221],[621.5,.221],[623.3,.263],[625.0,.317],[626.7,.535],[628.4,.728],[630.1,.824],[631.9,.849],[633.6,.849],[635.3,.849],[637.0,.824],
[638.7,.830],[640.5,.840],[642.2,.830],[643.9,.840],[645.6,.808],[647.3,.760],[649.1,.728],[650.8,.663],[652.5,.503],[654.2,.304],[655.9,.359],[657.7,.471],[659.4,.599],[661.1,.744],[662.8,.824],[664.5,.872],[666.3,.888],[668.0,.894],[669.7,.894],[671.4,.904],
[673.1,.926],[674.9,.936],[676.6,.936],[678.3,.936],[680.0,.926],[681.7,.936],[683.5,.942],[685.2,.958],[686.9,.945],[688.6,.904],[690.3,.824],[692.1,.679],[693.8,.535],[695.5,.503],[697.2,.455],[699.0,.375],[700.7,.583],[701.7,.663],[703.1,.599],[704.8,.567],
[706.5,.359],[707.9,.119],[709.3,-.106],[710.6,-.330],[712.0,-.362],[713.4,-.458],[714.8,-.490],[716.1,-.490],[717.5,-.506],[718.9,-.442],[720.3,-.346],[721.7,-.346],[723.0,-.282],[724.8,-.234],[726.5,-.170],[728.2,-.154],[729.9,-.074],[731.6,.119],[733.4,.375],[735.1,.503],
[736.8,.583],[738.5,.551],[740.2,.311],[742.0,.022],[743.7,-.458],[745.4,-.522],[747.1,-.554],[748.8,-.635],[750.6,-.676],[752.3,-.603],[754.0,-.490],[755.7,-.378],[757.4,-.346],[759.1,-.138],[760.9,.087],[762.6,.087],[764.3,.087],[766.0,-.058],[767.8,.054],[769.5,.071],
[771.2,.038],[772.9,.054],[774.6,.087],[776.4,.119],[778.1,.247],[779.8,.487],[781.5,.599],[783.2,.663],[785.0,.583],[786.7,.407],[788.4,.423],[789.4,.663],[790.8,.760],[792.5,.760],[794.2,.776],[796.0,.776],[797.7,.776],[799.4,.744],[801.1,.712],[802.8,.695],
[804.6,.663],[806.3,.663],[808.0,.670],[809.7,.679],[811.4,.670],[813.2,.599],[814.9,.487],[816.6,.375],[818.3,.391],[820.0,.503],[821.8,.670],[823.5,.647],[825.2,.695],[826.9,.712],[828.3,.567],[829.7,.311],[831.1,.135],[832.4,.119],[833.8,.327],[835.2,.535],
[836.6,.695],[838.3,.776],[839.7,.817],[841.0,.744],[842.8,.663],[844.5,.535],[846.2,.359],[847.6,.240],[849.3,.183],[851.0,.167],[852.7,.167],[854.5,.183],[856.2,.167],[857.9,.167],[859.3,.135],[860.6,.263],[862.4,.423],[864.1,.551],[865.8,.663],[867.5,.728],
[869.2,.792],[871.0,.824],[872.7,.840],[874.4,.808],[876.1,.792],[877.8,.728],[879.6,.663],[881.3,.583],[883.0,.631],[884.7,.657],[886.4,.663],[888.2,.663],[889.9,.679],[891.6,.728],[893.3,.824],[895.0,.872],[896.8,.881],[898.5,.862],[900.2,.824],[901.9,.808],
[903.6,.808],[905.4,.792],[907.1,.772],[908.8,.792],[910.5,.808],[912.2,.792],[914.0,.663],[915.7,.407],[917.4,.151],[919.1,-.042],[920.8,-.138],[922.6,-.234],[924.3,-.202],[926.0,-.170],[927.7,-.138],[929.4,-.010],[931.2,.151],[932.9,.311],[934.6,.343],[936.3,.391],
[938.0,.455],[939.8,.423],[940.4,.551],[941.5,.631],[943.2,.776],[944.9,.798],[946.6,.808],[948.4,.798],[950.1,.792],[951.8,.785],[953.5,.798],[955.2,.798],[957.0,.808],[958.7,.840],[960.4,.904],[962.1,.920],[963.8,.926],[965.6,.929],[967.3,.936],[969.0,.936],
[970.7,.913],[972.4,.872],[974.2,.824],[975.9,.663],[977.6,.247],[979.3,-.106],[981.0,-.266],[982.8,-.378],[984.5,-.490],[985.5,-.522],[986.9,-.394],[988.6,-.138],[990.3,.038],[992.1,.247],[993.8,.391],[995.5,.519],[997.2,.583],[998.9,.663],[1000.7,.728],[1002.4,.824],
[1004.1,.920],[1005.8,.926],[1007.2,.824],[1008.6,.744],[1010.3,.583],[1012.0,.455],[1013.7,.391],[1014.8,.381],[1016.1,.519],[1017.5,.599],[1018.9,.615],[1020.6,.631],[1022.3,.679],[1024.1,.760],[1025.8,.872],[1027.5,.913],[1029.2,.926],[1030.9,.936],[1032.7,.913],[1034.4,.856],
[1036.1,.830],[1037.8,.776],[1039.0,.710]
];

// annotations drawn on the chart
const downTrend = [[244.4,.8812],[719.9,.7120]];
const channelTop = [[810.2,.8481],[1078.3,.8848]];
const channelBottom = [[841.0,.8182],[1076.9,.8552]];
const resistanceBox = {day1:492.5, day2:808.4, v1:.7901, v2:.7923};
const corrLevels = {upper:0.5, mid:0, lower:-0.5};
const lastValues = {price:0.868, ema20:0.865, ema50:0.861, corr:0.71};
const hiddenMainLabels = [0.865, 0.86];   // covered by the value tags
const hiddenCorrLabels = [0.75];

// ---- helpers ----
const T0 = Date.UTC(2021,3,1);
const D = d => new Date(T0 + d*864e5);
const parse = d3.utcParse("%Y-%m-%d");
const tickDates = monthTicks.map(parse);
const isYear = l => /^\d{4}$/.test(l);
const xDomain = [D(2.34), D(1068.34)];
const toObj = a => a.map(([d,v]) => ({t:D(d), v}));
const near = (list, d) => list.some(h => Math.abs(h - d) < 1e-6);

// header
document.getElementById("ohlc").innerHTML = quoteLabels.map((l,i)=>`<b>${l}</b> ${quoteValues[i]}`).join("&nbsp;&nbsp;") + ' <span style="color:#888;font-size:9px">&#9650;</span>';

const P = toObj(price);
const segs = P.slice(1).map((p,i)=>({t1:P[i].t, v1:P[i].v, t2:p.t, v2:p.v, up:p.v >= P[i].v}));
const mainYTicks = d3.range(139,177).map(i => +(i*0.005).toFixed(3));
const f3 = d3.format(".3f"), f2 = d3.format(".2f");

const common = {
  width:1565, marginLeft:16, marginRight:47, marginTop:0,
  style:{fontFamily:"DejaVu Sans, sans-serif", fontSize:"9px", overflow:"visible", background:"transparent", color:"#000"}
};
function xMarks(){
  return [
    Plot.axisX({anchor:"bottom", ticks:tickDates, tickSize:3, tickFormat:()=> "", stroke:"#999", label:null}),
    Plot.text(tickDates.filter((d,i)=>!isYear(monthLabels[i])), {x:d=>d, text:monthLabels.filter(l=>!isYear(l)), frameAnchor:"bottom", dy:8, fontSize:9, fill:"#000"}),
    Plot.text(tickDates.filter((d,i)=>isYear(monthLabels[i])), {x:d=>d, text:monthLabels.filter(isYear), frameAnchor:"bottom", dy:8, fontSize:9.5, fontWeight:"bold", fill:"#000"})
  ];
}

const mainChart = Plot.plot({
  ...common, height:652, marginBottom:14,
  x:{type:"utc", domain:xDomain},
  y:{domain:[0.692605, 0.883593]},
  marks:[
    Plot.rect([resistanceBox], {x1:d=>D(d.day1), x2:d=>D(d.day2), y1:"v1", y2:"v2", fill:"#f3a6a6", fillOpacity:0.75, stroke:"#e07070", strokeWidth:1}),
    Plot.link(segs.filter(s=>s.up), {x1:"t1", y1:"v1", x2:"t2", y2:"v2", stroke:"#000", strokeWidth:2.6, strokeLinecap:"round"}),
    Plot.link(segs.filter(s=>!s.up), {x1:"t1", y1:"v1", x2:"t2", y2:"v2", stroke:"#c8103a", strokeWidth:2.6, strokeLinecap:"round"}),
    Plot.line(toObj(ema20), {x:"t", y:"v", stroke:"#9933ff", strokeWidth:1.1}),
    Plot.line(toObj(ema50), {x:"t", y:"v", stroke:"#00dd00", strokeWidth:1.1}),
    Plot.line(toObj(downTrend), {x:"t", y:"v", stroke:"#555", strokeWidth:2.5, strokeDasharray:"8,5"}),
    Plot.line(toObj(channelTop), {x:"t", y:"v", stroke:"#555", strokeWidth:2.5, strokeDasharray:"8,5"}),
    Plot.line(toObj(channelBottom), {x:"t", y:"v", stroke:"#555", strokeWidth:2.5, strokeDasharray:"8,5"}),
    Plot.frame({stroke:"#b4b4b4"}),
    Plot.axisY({anchor:"right", ticks:mainYTicks, tickFormat:d => near(hiddenMainLabels, d) ? "" : f3(d), tickSize:3, tickPadding:2, fontSize:9.5, stroke:"#999", label:null}),
    ...xMarks()
  ]
});
document.getElementById("main").appendChild(mainChart);

const corrTicks = d3.range(-4,5).map(i=>i*0.25);
const corrMinor = d3.range(-8,9).filter(i=>i%2!==0).map(i=>i*0.125);
const lowerChart = Plot.plot({
  ...common, height:239, marginBottom:16,
  x:{type:"utc", domain:xDomain},
  y:{domain:[-1.074, 1.070]},
  marks:[
    Plot.ruleY([corrLevels.upper], {stroke:"#6aa84f", strokeWidth:2.5, strokeDasharray:"10,5"}),
    Plot.ruleY([corrLevels.mid], {stroke:"#888", strokeWidth:1, strokeDasharray:"8,3,2,3"}),
    Plot.ruleY([corrLevels.lower], {stroke:"#cc0000", strokeWidth:2.5, strokeDasharray:"10,5"}),
    Plot.line(toObj(corr), {x:"t", y:"v", stroke:"#000", strokeWidth:1.4}),
    Plot.frame({stroke:"#b4b4b4"}),
    Plot.axisY({anchor:"right", ticks:corrTicks, tickFormat:d => near(hiddenCorrLabels, d) ? "" : f2(d), tickSize:3, tickPadding:2, fontSize:9.5, stroke:"#999", label:null}),
    Plot.axisY({anchor:"right", ticks:corrMinor, tickFormat:()=>"", tickSize:2, stroke:"#999", label:null}),
    ...xMarks()
  ]
});
document.getElementById("lower").appendChild(lowerChart);

// value tags placed with the plots' own scales
function addTag(chart, v, text, color, bold){
  const ys = chart.scale("y"), xs = chart.scale("x");
  const y = d3.scaleLinear(ys.domain, ys.range)(v);
  const x0 = xs.range[1];
  const h = 13, w = 34;
  const g = d3.select(chart).append("g");
  g.append("path").attr("d", `M${x0},${y} L${x0+5},${y-h/2} L${x0+w},${y-h/2} L${x0+w},${y+h/2} L${x0+5},${y+h/2} Z`)
    .attr("fill","#fff").attr("stroke",color).attr("stroke-width",1.2);
  g.append("text").attr("x", x0+6).attr("y", y+3.6).attr("text-anchor","start").text(text)
    .attr("font-size", 10).attr("font-weight", bold ? "bold" : "normal").attr("fill","#000")
    .attr("font-family","DejaVu Sans, sans-serif");
}
addTag(mainChart, lastValues.ema50, "0.861", "#00dd00", false);
addTag(mainChart, lastValues.ema20, "0.865", "#9933ff", false);
addTag(mainChart, lastValues.price, "0.868", "#000", true);
addTag(lowerChart, lastValues.corr, "0.71", "#000", false);
</script>
</body></html>
